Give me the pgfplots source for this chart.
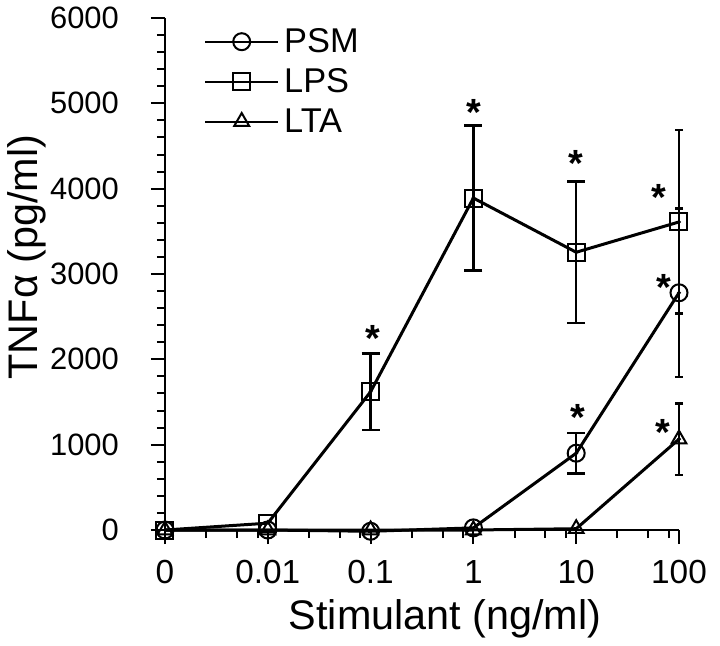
\documentclass[border=0pt]{standalone}
\usepackage{fontspec}
\setmainfont{Liberation Sans}
\usepackage{pgfplots}
\pgfplotsset{compat=1.18}

% cap drawn on one side of the bar only (the bars at 100 sit on the axis end)
\pgfdeclareplotmark{halfcap}{%
  \pgfpathmoveto{\pgfqpoint{-\pgfplotmarksize}{0pt}}%
  \pgfpathlineto{\pgfqpoint{0pt}{0pt}}%
  \pgfusepathqstroke}

\pgfplotstableread{
x   psm   lps   lta
0   0     0     0
1   0     80    0
2   -15   1620  0
3   25    3890  0
4   900   3255  15
5   2780  3610  1065
}\datatab

\pgfplotsset{
  errplot/.style={forget plot, only marks, mark=*, mark size=0.01pt,
    mark options={draw=none, fill=none},
    /pgfplots/error bars/y dir=both,
    /pgfplots/error bars/y explicit,
    /pgfplots/error bars/error bar style={draw=black, solid, line width=2.5bp},
    /pgfplots/error bars/error mark options={rotate=90, draw=black, solid, mark size=9bp, line width=2.5bp}},
}

\begin{document}
\begin{tikzpicture}
\begin{axis}[
  at={(0,0)}, anchor=south west,
  scale only axis, width=514bp, height=512bp,
  xmin=0, xmax=5, ymin=0, ymax=6000,
  clip=false,
  axis x line=bottom, axis y line=left,
  axis line style={-, line width=2.5bp},
  tick align=outside,
  major tick length=14bp, minor tick length=8bp,
  every tick/.style={black, line width=2bp},
  xtick={0,1,2,3,4,5},
  xticklabels={0,0.01,0.1,1,10,100},
  minor xtick={0.4,0.7,0.9,1.4,1.7,1.9,2.4,2.7,2.9,3.4,3.7,3.9,4.4,4.7,4.9},
  ytick={0,1000,...,6000},
  minor y tick num=4,
  scaled y ticks=false,
  /pgf/number format/1000 sep={},
  /pgf/number format/assume math mode=true,
  yticklabel style={font=\fontsize{31}{31}\selectfont, inner sep=0pt},
  xticklabel style={font=\fontsize{33.5}{33.5}\selectfont, inner sep=0pt},
  yticklabel shift=32bp,
  xticklabel shift=16bp,
  xlabel={Stimulant (ng/ml)},
  ylabel={TNFα (pg/ml)},
  xlabel style={font=\fontsize{41.5}{41.5}\selectfont, inner sep=0pt,
    at={(axis description cs:0.545,-0.195)}, anchor=base},
  ylabel style={font=\fontsize{41.5}{41.5}\selectfont, inner sep=0pt,
    at={(axis description cs:-0.249,0.533)}, anchor=base},
  every axis plot/.append style={black, line width=3bp, mark size=8.5bp,
    mark options={fill=white, line width=2bp, solid}},
  legend style={draw=none, fill=none, inner sep=0pt,
    at={(axis description cs:0.0759,0.979)}, anchor=north west,
    font=\fontsize{34.5}{34.5}\selectfont, row sep=14.5bp, column sep=5bp,
    nodes={inner sep=0pt}},
  legend cell align=left,
  legend image code/.code={
    \draw[#1, line width=2bp] (0bp,0bp) -- (73bp,0bp);
    \draw[#1] plot coordinates {(36.5bp,0bp)};
  },
]
% error bars, drawn first so the white markers sit on top
\addplot[errplot] coordinates {
  (2,1620) +- (0,450)
  (3,3890) +- (0,850)
  (4,3255) +- (0,830)
  (4,900)  +- (0,235)
};
\addplot[errplot, /pgfplots/error bars/error mark=halfcap,
  /pgfplots/error bars/error mark options={rotate=90, draw=black, solid, mark size=8bp, line width=2.5bp}]
  coordinates {
  (5,3610) +- (0,1075)
  (5,2780) +- (0,985)
  (5,1065) +- (0,420)
};

\addplot[mark=o] table[x=x, y=psm] {\datatab};
\addlegendentry{PSM}
\addplot[mark=square] table[x=x, y=lps] {\datatab};
\addlegendentry{LPS}
\addplot[mark=triangle] table[x=x, y=lta] {\datatab};
\addlegendentry{LTA}

% significance stars
\addplot[forget plot, only marks, mark=*, mark size=0.01pt,
  mark options={draw=none, fill=none},
  nodes near coords={*},
  nodes near coords style={anchor=base, yshift=-22bp, inner sep=0pt,
    font=\fontsize{38}{38}\selectfont\bfseries}]
  coordinates {
  (2.02,2344) (3.0,5000) (4.0,4395) (4.80,4004)
  (4.85,2950) (4.02,1426) (4.84,1250)
};
\end{axis}
\pgfresetboundingbox
\path (-165bp,-116bp) rectangle (555bp,530bp);
\end{tikzpicture}
\end{document}
